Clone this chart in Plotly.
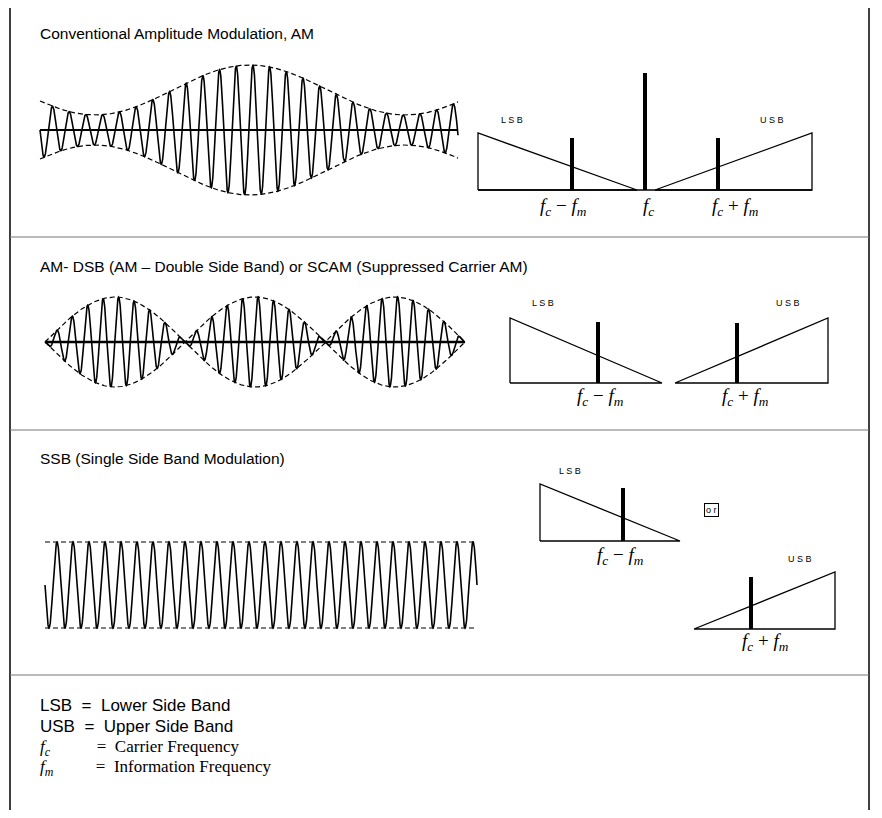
import numpy as np
import plotly.graph_objects as go

# ---- data (pixel-space diagram parameters) ----
titles = ["Conventional Amplitude Modulation, AM",
          "AM- DSB (AM – Double Side Band) or SCAM (Suppressed Carrier AM)",
          "SSB (Single Side Band Modulation)"]
title_y = [33, 266, 458]
dividers = [237, 430, 675]

lsb_tri = [(190, 478, 637, 133), (383, 510, 662, 318), (541, 540, 680, 484)]
usb_tri = [(190, 655, 812, 133), (383, 675, 828, 318), (629, 694, 835, 572)]
bars_x = [572, 718, 598, 737, 623, 751]
bars_base = [190, 190, 383, 383, 541, 629]
bars_top = [138, 138, 322, 323, 488, 577]
carrier = (645, 190, 73)
sb_labels = [("LSB", 512, 120), ("USB", 772, 120), ("LSB", 543, 303), ("USB", 788, 303),
             ("LSB", 570, 471), ("USB", 800, 559)]
fm_minus = "<i>f<sub>c</sub></i> − <i>f<sub>m</sub></i>"
fm_plus = "<i>f<sub>c</sub></i> + <i>f<sub>m</sub></i>"
freq_labels = [(fm_minus, 563, 207), ("<i>f<sub>c</sub></i>", 648, 207), (fm_plus, 735, 207),
               (fm_minus, 600, 397), (fm_plus, 745, 397),
               (fm_minus, 620, 556), (fm_plus, 765, 642)]
legend_lines = [("LSB  =  Lower Side Band", 705, "Liberation Sans", 17),
                ("USB  =  Upper Side Band", 726, "Liberation Sans", 17),
                ("<i>f<sub>c</sub></i>           =  Carrier Frequency", 748, "Liberation Serif", 17),
                ("<i>f<sub>m</sub></i>          =  Information Frequency", 768, "Liberation Serif", 17)]

fig = go.Figure()
DASH = "5px,3px"

def line(xs, ys, w=2, dash=None):
    fig.add_trace(go.Scatter(x=xs, y=ys, mode="lines", line=dict(color="black", width=w, dash=dash),
                             hoverinfo="skip", showlegend=False))

# Panel 1 AM wave
x = np.linspace(40, 458, 3000)
env = 40 + 25 * np.cos(2 * np.pi * (x - 250) / 310)
line(x, 130 + env * np.sin(2 * np.pi * (x - 40) / 16.7), 1.6)
line(x, 130 - env, 1.2, DASH); line(x, 130 + env, 1.2, DASH)
line([40, 458], [130, 130], 2)

# Panel 2 DSB wave
x = np.linspace(45, 465, 3000)
env = 45 * np.abs(np.sin(3 * np.pi * (x - 45) / 420))
line(x, 342 + env * np.sin(2 * np.pi * (x - 45) / 15.5), 1.6)
line(x, 342 - env, 1.2, DASH); line(x, 342 + env, 1.2, DASH)
line([45, 465], [342, 342], 2.5)

# Panel 3 SSB wave
x = np.linspace(45, 477, 3000)
line(x, 585 + 43 * np.sin(2 * np.pi * (x - 45) / 16), 1.6)
line([45, 477], [542, 542], 1.2, DASH); line([45, 477], [628, 628], 1.2, DASH)

# spectra
for (b, x0, x1, t) in lsb_tri:
    line([x0, x0, x1, x0], [b, t, b, b], 1.3)
for (b, x0, x1, t) in usb_tri:
    line([x0, x1, x1, x0], [b, t, b, b], 1.3)
line([478, 812], [190, 190], 1.3)
for bx, bb, bt in zip(bars_x, bars_base, bars_top):
    line([bx, bx], [bb, bt], 4)
line([carrier[0]] * 2, [carrier[1], carrier[2]], 4)

ann = []
def A(**kw):
    f = kw.pop("font")
    f["color"] = "black"
    ann.append(dict(xref="x", yref="y", showarrow=False, font=f, **kw))

for t, ty in zip(titles, title_y):
    A(x=38, y=ty, text=t, xanchor="left", font=dict(family="Liberation Sans", size=15.5))
for t, lx, ly in sb_labels:
    A(x=lx, y=ly, text=" ".join(t), font=dict(family="Liberation Sans", size=9))
for t, lx, ly in freq_labels:
    A(x=lx, y=ly, text=t, font=dict(family="Liberation Serif", size=19))
for t, ly, fam, s in legend_lines:
    A(x=38, y=ly, text=t, xanchor="left", font=dict(family=fam, size=s))
A(x=711, y=510, text="o r", font=dict(family="Liberation Sans", size=9),
  bordercolor="black", borderwidth=1, borderpad=1)

shapes = [dict(type="rect", x0=10, x1=869, y0=5, y1=812, line=dict(color="black", width=1.5)),
          dict(type="line", x0=0, x1=882, y0=813, y1=813, line=dict(color="black", width=3))]
for d in dividers:
    shapes.append(dict(type="line", x0=10, x1=869, y0=d, y1=d, line=dict(color="#777", width=1.2)))

# page body has an 8px margin: shift the coordinate window accordingly
fig.update_layout(width=866, height=802, margin=dict(l=0, r=0, t=0, b=0),
                  paper_bgcolor="white", plot_bgcolor="white",
                  xaxis=dict(range=[8, 874], visible=False, fixedrange=True),
                  yaxis=dict(range=[810, 8], visible=False, fixedrange=True),
                  annotations=ann, shapes=shapes)
fig.write_html("out.html")
